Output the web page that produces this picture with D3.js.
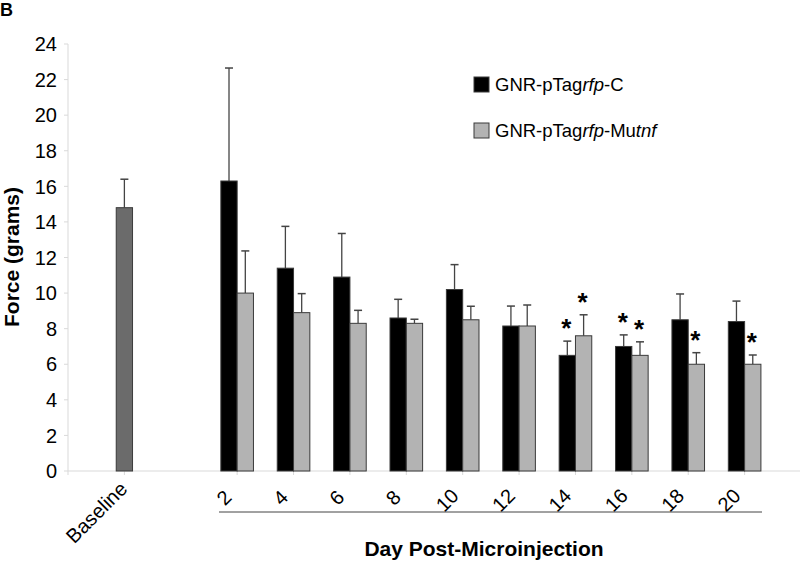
<!DOCTYPE html>
<html>
<head>
<meta charset="utf-8">
<script src="https://cdn.jsdelivr.net/npm/d3@7"></script>
<style>
  body { margin: 0; background: #fff; }
  svg { font-family: Arial, "Liberation Sans", sans-serif; }
</style>
</head>
<body>
<div id="chart"></div>
<script>
// slots along the x axis (first and last are empty padding, "gap" separates baseline from days)
const slots = ['start', 'Baseline', 'gap', '2', '4', '6', '8', '10', '12', '14', '16', '18', '20', 'end'];
const days = ['2', '4', '6', '8', '10', '12', '14', '16', '18', '20'];
const yTicks = [0, 2, 4, 6, 8, 10, 12, 14, 16, 18, 20, 22, 24];

const baselineMean = 14.8;
const baselineErr = 1.6;

const controlMean = [16.3, 11.4, 10.9, 8.6, 10.2, 8.15, 6.5, 7.0, 8.5, 8.4];
const controlErr = [6.35, 2.35, 2.45, 1.05, 1.4, 1.12, 0.8, 0.65, 1.45, 1.15];
const controlSig = [false, false, false, false, false, false, true, true, false, false];

const mutantMean = [10.0, 8.9, 8.3, 8.3, 8.5, 8.15, 7.6, 6.5, 6.0, 6.0];
const mutantErr = [2.37, 1.07, 0.73, 0.23, 0.76, 1.18, 1.18, 0.76, 0.65, 0.52];
const mutantSig = [false, false, false, false, false, false, true, true, true, true];

const width = 800, height = 561;

const svg = d3.select('#chart')
  .append('svg')
  .attr('width', width)
  .attr('height', height);

const x = d3.scalePoint().domain(slots).range([68, 801]);
const y = d3.scaleLinear().domain([0, 24]).range([471, 44]);
const barW = 16.3;
const axisGray = '#d9d9d9';
const lineCol = '#444';

// panel letter
svg.append('text')
  .attr('x', 0).attr('y', 16)
  .attr('font-size', 18).attr('font-weight', 'bold')
  .text('B');

// y axis line + ticks
svg.append('line')
  .attr('x1', 68).attr('x2', 68)
  .attr('y1', y(24)).attr('y2', y(0))
  .attr('stroke', axisGray);

svg.selectAll('line.ytick')
  .data(yTicks)
  .join('line')
  .attr('class', 'ytick')
  .attr('x1', 64).attr('x2', 68)
  .attr('y1', d => y(d)).attr('y2', d => y(d))
  .attr('stroke', axisGray);

svg.selectAll('text.ylab')
  .data(yTicks)
  .join('text')
  .attr('class', 'ylab')
  .attr('x', 57)
  .attr('y', d => y(d))
  .attr('dy', '0.36em')
  .attr('text-anchor', 'end')
  .attr('font-size', 20)
  .text(d => d);

// y title
svg.append('text')
  .attr('transform', 'translate(19,257) rotate(-90)')
  .attr('text-anchor', 'middle')
  .attr('font-size', 21)
  .attr('font-weight', 'bold')
  .text('Force (grams)');

// zero line + x ticks
svg.append('line')
  .attr('x1', 68).attr('x2', 801)
  .attr('y1', y(0)).attr('y2', y(0))
  .attr('stroke', axisGray);

svg.selectAll('line.xtick')
  .data(slots.filter(s => s !== 'gap'))
  .join('line')
  .attr('class', 'xtick')
  .attr('x1', d => x(d)).attr('x2', d => x(d))
  .attr('y1', y(0)).attr('y2', y(0) + 4)
  .attr('stroke', axisGray);

// x labels, rotated; longer labels sit a little further up the diagonal
const xLabels = ['Baseline'].concat(days);
svg.selectAll('text.xlab')
  .data(xLabels)
  .join('text')
  .attr('class', 'xlab')
  .attr('dy', '0.72em')
  .attr('text-anchor', 'end')
  .attr('font-size', 20)
  .text(d => d)
  .each(function (d) {
    const len = this.getComputedTextLength();
    const t = 0.18 * (len - 22) * 0.707;
    d3.select(this).attr('transform', `translate(${x(d) - 13 + t},${487 - t}) rotate(-45)`);
  });

// bracket line under days + title
svg.append('line')
  .attr('x1', 219).attr('x2', 762)
  .attr('y1', 512).attr('y2', 512)
  .attr('stroke', lineCol);

svg.append('text')
  .attr('x', 484).attr('y', 556)
  .attr('text-anchor', 'middle')
  .attr('font-size', 21)
  .attr('font-weight', 'bold')
  .text('Day Post-Microinjection');

// bars
const bars = [
  { key: 'Baseline', x0: x('Baseline') - barW / 2, mean: baselineMean, err: baselineErr, fill: '#6b6b6b', sig: false }
];
days.forEach((d, i) => {
  bars.push({ key: d, x0: x(d) - barW, mean: controlMean[i], err: controlErr[i], fill: '#000', sig: controlSig[i] });
  bars.push({ key: d, x0: x(d), mean: mutantMean[i], err: mutantErr[i], fill: '#b3b3b3', sig: mutantSig[i] });
});

// error bars (drawn first so they sit behind bar tops)
const eb = svg.append('g');
eb.selectAll('line.stem')
  .data(bars)
  .join('line')
  .attr('x1', d => d.x0 + barW / 2).attr('x2', d => d.x0 + barW / 2)
  .attr('y1', d => y(d.mean)).attr('y2', d => y(d.mean + d.err))
  .attr('stroke', lineCol).attr('stroke-width', 1.3);
eb.selectAll('line.cap')
  .data(bars)
  .join('line')
  .attr('x1', d => d.x0 + barW / 2 - 4).attr('x2', d => d.x0 + barW / 2 + 4)
  .attr('y1', d => y(d.mean + d.err)).attr('y2', d => y(d.mean + d.err))
  .attr('stroke', lineCol).attr('stroke-width', 1.5);

svg.append('g')
  .selectAll('rect')
  .data(bars)
  .join('rect')
  .attr('x', d => d.x0)
  .attr('y', d => y(d.mean))
  .attr('width', barW)
  .attr('height', d => y(0) - y(d.mean))
  .attr('fill', d => d.fill)
  .attr('stroke', '#3a3a3a')
  .attr('stroke-width', 1);

// significance asterisks
svg.append('g')
  .selectAll('text')
  .data(bars.filter(d => d.sig))
  .join('text')
  .attr('x', d => d.x0 + barW / 2 - 1)
  .attr('y', d => y(d.mean + d.err) - 4)
  .attr('text-anchor', 'middle')
  .attr('font-size', 26)
  .attr('font-weight', 'bold')
  .text('*');

// legend
const legend = [
  { fill: '#000', pre: 'GNR-pTag', it: 'rfp', post: '-C', it2: '' },
  { fill: '#b3b3b3', pre: 'GNR-pTag', it: 'rfp', post: '-Mu', it2: 'tnf' }
];
const lg = svg.append('g').selectAll('g')
  .data(legend)
  .join('g')
  .attr('transform', (d, i) => `translate(474,${77 + i * 46})`);
lg.append('rect')
  .attr('width', 15).attr('height', 15)
  .attr('fill', d => d.fill)
  .attr('stroke', '#3a3a3a');
const lt = lg.append('text')
  .attr('x', 21).attr('y', 14)
  .attr('font-size', 18.5);
lt.append('tspan').text(d => d.pre);
lt.append('tspan').attr('font-style', 'italic').text(d => d.it);
lt.append('tspan').text(d => d.post);
lt.append('tspan').attr('font-style', 'italic').text(d => d.it2);
</script>
</body>
</html>
